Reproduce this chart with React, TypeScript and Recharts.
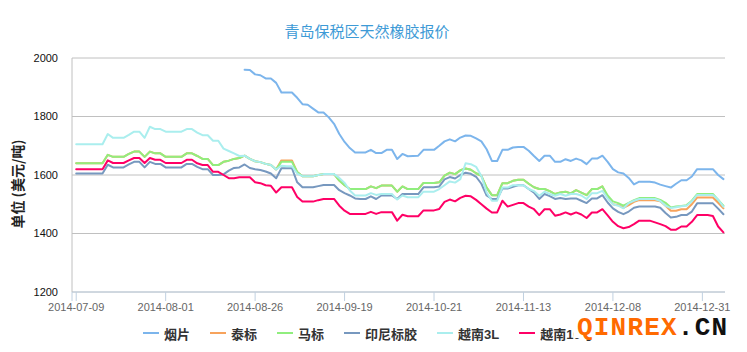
import React from 'react';
import { LineChart, Line, XAxis, YAxis, CartesianGrid } from 'recharts';

const dates = [
  '2014-07-09','2014-07-10','2014-07-11','2014-07-14','2014-07-15','2014-07-16','2014-07-17','2014-07-18','2014-07-21','2014-07-22',
  '2014-07-23','2014-07-24','2014-07-25','2014-07-28','2014-07-29','2014-07-30','2014-07-31','2014-08-01','2014-08-04','2014-08-05',
  '2014-08-06','2014-08-07','2014-08-08','2014-08-11','2014-08-12','2014-08-13','2014-08-14','2014-08-15','2014-08-18','2014-08-19',
  '2014-08-20','2014-08-21','2014-08-22','2014-08-25','2014-08-26','2014-08-27','2014-08-28','2014-08-29','2014-09-01','2014-09-02',
  '2014-09-03','2014-09-04','2014-09-05','2014-09-09','2014-09-10','2014-09-11','2014-09-12','2014-09-15','2014-09-16','2014-09-17',
  '2014-09-18','2014-09-19','2014-09-22','2014-09-23','2014-09-24','2014-09-25','2014-09-26','2014-09-29','2014-09-30','2014-10-08',
  '2014-10-09','2014-10-10','2014-10-13','2014-10-14','2014-10-15','2014-10-16','2014-10-17','2014-10-20','2014-10-21','2014-10-22',
  '2014-10-23','2014-10-24','2014-10-27','2014-10-28','2014-10-29','2014-10-30','2014-10-31','2014-11-03','2014-11-04','2014-11-05',
  '2014-11-06','2014-11-07','2014-11-10','2014-11-11','2014-11-12','2014-11-13','2014-11-14','2014-11-17','2014-11-18','2014-11-19',
  '2014-11-20','2014-11-21','2014-11-24','2014-11-25','2014-11-26','2014-11-27','2014-11-28','2014-12-01','2014-12-02','2014-12-03',
  '2014-12-04','2014-12-05','2014-12-08','2014-12-09','2014-12-10','2014-12-11','2014-12-12','2014-12-15','2014-12-16','2014-12-17',
  '2014-12-18','2014-12-19','2014-12-22','2014-12-23','2014-12-24','2014-12-25','2014-12-26','2014-12-29','2014-12-30','2014-12-31',
  '2015-01-05','2015-01-06','2015-01-07','2015-01-08',
];

const tickIndex = [0, 17, 34, 51, 68, 85, 102, 119];
const yTicks = [1200, 1400, 1600, 1800, 2000];

const yanpian = [
  ...Array(32).fill(null),
  1960, 1959, 1944, 1941, 1930, 1930, 1915, 1882, 1882, 1882,
  1864, 1842, 1840, 1827, 1814, 1814, 1797, 1775, 1740, 1713,
  1692, 1677, 1677, 1677, 1686, 1675, 1675, 1686, 1686, 1655,
  1672, 1664, 1665, 1666, 1686, 1686, 1686, 1700, 1715, 1722,
  1715, 1728, 1735, 1734, 1725, 1715, 1688, 1648, 1648, 1686,
  1686, 1694, 1696, 1696, 1683, 1665, 1648, 1666, 1666, 1645,
  1645, 1654, 1648, 1656, 1650, 1637, 1656, 1656, 1666, 1645,
  1620, 1609, 1605, 1590, 1568, 1577, 1577, 1577, 1574, 1567,
  1562, 1557, 1570, 1582, 1582, 1595, 1620, 1620, 1620, 1620,
  1600, 1586,
];

const taibiao = [
  1640, 1640, 1640, 1640, 1640, 1640, 1669, 1662, 1662, 1662,
  1672, 1680, 1680, 1662, 1680, 1674, 1674, 1662, 1662, 1662,
  1662, 1674, 1674, 1665, 1655, 1655, 1634, 1634, 1645, 1649,
  1655, 1658, 1666, 1655, 1647, 1644, 1638, 1634, 1619, 1650,
  1650, 1650, 1610, 1596, 1596, 1596, 1600, 1603, 1603, 1603,
  1581, 1565, 1552, 1552, 1552, 1552, 1561, 1555, 1564, 1564,
  1564, 1543, 1561, 1552, 1552, 1552, 1573, 1573, 1573, 1575,
  1598, 1608, 1603, 1616, 1622, 1618, 1606, 1597, 1557, 1531,
  1531, 1572, 1572, 1580, 1584, 1584, 1570, 1558, 1552, 1552,
  1545, 1535, 1540, 1543, 1537, 1548, 1540, 1531, 1552, 1552,
  1561, 1525, 1500, 1497, 1488, 1497, 1508, 1514, 1514, 1514,
  1514, 1510, 1495, 1478, 1478, 1483, 1483, 1500, 1523, 1523,
  1523, 1523, 1505, 1486,
];

const mabiao = [
  1640, 1640, 1640, 1640, 1640, 1640, 1669, 1662, 1662, 1662,
  1672, 1680, 1680, 1662, 1680, 1674, 1674, 1662, 1662, 1662,
  1662, 1674, 1674, 1665, 1655, 1655, 1634, 1634, 1645, 1649,
  1655, 1658, 1666, 1655, 1647, 1644, 1638, 1634, 1619, 1645,
  1645, 1645, 1610, 1596, 1596, 1596, 1600, 1603, 1603, 1603,
  1581, 1565, 1552, 1552, 1552, 1552, 1561, 1555, 1564, 1564,
  1564, 1543, 1561, 1552, 1552, 1552, 1573, 1573, 1573, 1575,
  1598, 1608, 1603, 1616, 1622, 1618, 1606, 1597, 1557, 1531,
  1531, 1572, 1572, 1580, 1584, 1584, 1570, 1558, 1552, 1552,
  1545, 1535, 1540, 1543, 1537, 1548, 1540, 1531, 1552, 1552,
  1561, 1530, 1510, 1504, 1495, 1505, 1514, 1521, 1521, 1521,
  1521, 1515, 1505, 1489, 1492, 1494, 1497, 1512, 1535, 1535,
  1535, 1535, 1515, 1495,
];

const yinni = [
  1605, 1605, 1605, 1605, 1605, 1605, 1635, 1626, 1626, 1626,
  1636, 1645, 1645, 1626, 1645, 1638, 1638, 1626, 1626, 1626,
  1626, 1638, 1638, 1628, 1620, 1620, 1600, 1600, 1602, 1615,
  1624, 1626, 1636, 1624, 1620, 1617, 1612, 1605, 1589, 1623,
  1623, 1623, 1575, 1558, 1558, 1558, 1562, 1566, 1566, 1566,
  1548, 1538, 1530, 1520, 1518, 1518, 1527, 1518, 1530, 1530,
  1530, 1518, 1535, 1535, 1535, 1535, 1558, 1558, 1558, 1561,
  1585, 1593, 1588, 1600, 1608, 1604, 1594, 1570, 1530, 1518,
  1518, 1554, 1554, 1560, 1565, 1565, 1552, 1540, 1518, 1535,
  1528, 1518, 1521, 1518, 1520, 1520, 1512, 1504, 1520, 1520,
  1531, 1506, 1486, 1474, 1466, 1475, 1488, 1492, 1492, 1492,
  1492, 1488, 1470, 1455, 1457, 1463, 1463, 1475, 1503, 1503,
  1503, 1503, 1485, 1466,
];

const yuenan3L = [
  1705, 1705, 1705, 1705, 1705, 1705, 1740, 1727, 1727, 1727,
  1737, 1748, 1748, 1727, 1765, 1757, 1757, 1748, 1748, 1748,
  1748, 1757, 1757, 1745, 1736, 1736, 1717, 1717, 1690, 1682,
  1674, 1665, 1666, 1655, 1647, 1644, 1638, 1634, 1619, 1632,
  1630, 1630, 1605, 1596, 1596, 1596, 1600, 1603, 1603, 1603,
  1590, 1573, 1547, 1530, 1530, 1530, 1538, 1532, 1535, 1535,
  1535, 1516, 1530, 1524, 1524, 1524, 1543, 1543, 1543, 1552,
  1565, 1578, 1574, 1586, 1640, 1637, 1628, 1597, 1540, 1512,
  1512, 1557, 1557, 1565, 1565, 1565, 1552, 1545, 1529, 1543,
  1535, 1529, 1535, 1529, 1535, 1535, 1530, 1518, 1538, 1538,
  1546, 1520, 1500, 1495, 1486, 1504, 1512, 1518, 1518, 1518,
  1518, 1511, 1495, 1487, 1490, 1493, 1495, 1510, 1532, 1532,
  1532, 1532, 1516, 1492,
];

const yuenan10 = [
  1620, 1620, 1620, 1620, 1620, 1620, 1650, 1641, 1641, 1641,
  1650, 1658, 1658, 1641, 1658, 1652, 1652, 1641, 1641, 1641,
  1641, 1652, 1652, 1640, 1634, 1634, 1611, 1611, 1600, 1589,
  1589, 1592, 1592, 1592, 1575, 1572, 1565, 1563, 1540, 1558,
  1558, 1558, 1525, 1509, 1509, 1509, 1514, 1518, 1518, 1518,
  1495, 1478, 1467, 1467, 1467, 1467, 1474, 1467, 1473, 1473,
  1473, 1444, 1464, 1459, 1459, 1459, 1479, 1479, 1479, 1484,
  1508, 1516, 1510, 1522, 1529, 1527, 1515, 1500, 1485, 1472,
  1472, 1512, 1492, 1498, 1504, 1504, 1492, 1483, 1463, 1483,
  1483, 1461, 1465, 1472, 1465, 1472, 1465, 1453, 1472, 1472,
  1483, 1462, 1440, 1425, 1418, 1422, 1432, 1444, 1444, 1444,
  1438, 1432, 1425, 1413, 1413, 1424, 1424, 1440, 1463, 1463,
  1463, 1460, 1424, 1404,
];

const series = [
  { key: 'yanpian', name: '烟片', color: '#7cb5ec', values: yanpian },
  { key: 'taibiao', name: '泰标', color: '#f7a35c', values: taibiao },
  { key: 'mabiao', name: '马标', color: '#90ee7e', values: mabiao },
  { key: 'yinni', name: '印尼标胶', color: '#7798BF', values: yinni },
  { key: 'yuenan3L', name: '越南3L', color: '#aaeeee', values: yuenan3L },
  { key: 'yuenan10', name: '越南10号', color: '#ff0066', values: yuenan10 },
];

const data = dates.map((d, i) => {
  const row: any = { i, date: d };
  series.forEach((s) => {
    row[s.key] = s.values[i];
  });
  return row;
});

const FONT = "'Liberation Sans', Arial, 'Noto Sans CJK SC', sans-serif";
const X_MIN = -0.8;
const X_MAX = 123.3;

export default function App() {
  return (
    <div style={{ position: 'absolute', left: 0, top: 0, width: 747, height: 352, background: '#fff', overflow: 'hidden' }}>
      <div
        style={{
          position: 'absolute', left: 0, top: 21, width: 734, textAlign: 'center',
          fontSize: 15, lineHeight: '20px', color: '#3d9ad6', fontFamily: "'Noto Sans CJK SC', sans-serif",
        }}
      >
        青岛保税区天然橡胶报价
      </div>
      <div
        style={{
          position: 'absolute', left: 17 - 60, top: 184 - 9, width: 120, height: 18, lineHeight: '18px',
          textAlign: 'center', transform: 'rotate(-90deg)', fontSize: 14, fontWeight: 'bold', color: '#222',
          fontFamily: "'Noto Sans CJK SC', sans-serif", whiteSpace: 'nowrap',
        }}
      >
        单位 (美元/吨)
      </div>
      <LineChart width={747} height={352} data={data} margin={{ top: 58, right: 22, bottom: 0, left: 0 }}>
        <CartesianGrid vertical={false} stroke="#C0C0C0" />
        <XAxis
          type="number"
          dataKey="i"
          domain={[X_MIN, X_MAX]}
          ticks={[X_MIN, ...tickIndex]}
          interval={0}
          allowDataOverflow
          height={60}
          stroke="#C0D0E0"
          tickSize={9}
          tickMargin={2}
          tick={{ fill: '#666', fontSize: 11, fontFamily: FONT }}
          tickFormatter={(v: number) => (Number.isInteger(v) ? dates[v] : '')}
        />
        <YAxis
          type="number"
          domain={[1200, 2000]}
          ticks={yTicks}
          interval={0}
          width={72}
          stroke="#C0C0C0"
          tickLine={false}
          tickSize={0}
          tickMargin={14}
          tick={{ fill: '#111', fontSize: 11, fontFamily: FONT }}
        />
        {series.map((s) => (
          <Line
            key={s.key}
            type="linear"
            dataKey={s.key}
            name={s.name}
            stroke={s.color}
            strokeWidth={2}
            strokeLinejoin="round"
            strokeLinecap="round"
            dot={false}
            activeDot={false}
            isAnimationActive={false}
          />
        ))}
      </LineChart>
      <div
        style={{
          position: 'absolute', left: 143, top: 324, height: 18, display: 'flex', alignItems: 'center',
          fontFamily: FONT, fontSize: 13, fontWeight: 'bold', color: '#333', whiteSpace: 'nowrap',
        }}
      >
        {series.map((s) => (
          <div key={s.key} style={{ display: 'flex', alignItems: 'center', marginRight: 20 }}>
            <span style={{ display: 'inline-block', width: 16, height: 2, background: s.color, marginRight: 5 }} />
            <span>{s.name}</span>
          </div>
        ))}
      </div>
      <div
        style={{
          position: 'absolute', left: 574, top: 318, height: 20, paddingLeft: 3, paddingRight: 10, background: '#fff',
          fontFamily: "'Liberation Mono', 'DejaVu Sans Mono', monospace", fontWeight: 'bold', fontSize: 26,
          lineHeight: '21px', letterSpacing: 1.2, whiteSpace: 'nowrap',
        }}
      >
        <span style={{ color: '#ff6a00' }}>QINREX</span>
        <span style={{ color: '#111' }}>.CN</span>
      </div>
    </div>
  );
}
